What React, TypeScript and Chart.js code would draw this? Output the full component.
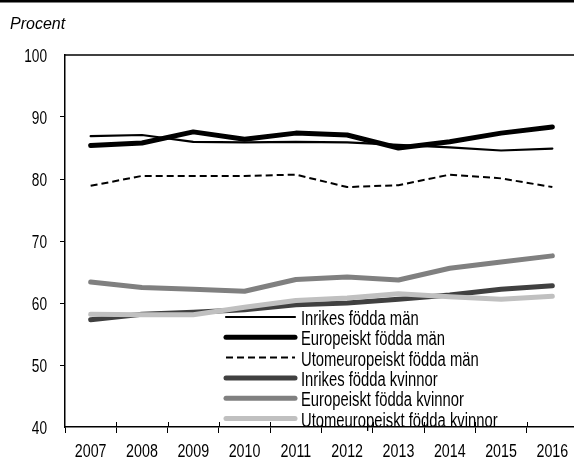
import React, { useEffect, useRef } from "react";
import { Chart, registerables } from "chart.js";

Chart.register(...registerables);

const years = ["2007", "2008", "2009", "2010", "2011", "2012", "2013", "2014", "2015", "2016"];
const inrikesMan = [86.9, 87.1, 86.0, 85.9, 86.0, 85.9, 85.5, 85.1, 84.6, 84.9];
const europeisktMan = [85.4, 85.8, 87.6, 86.4, 87.4, 87.1, 85.0, 86.0, 87.4, 88.4];
const utomeuropeisktMan = [78.9, 80.5, 80.5, 80.5, 80.7, 78.7, 79.0, 80.7, 80.1, 78.7];
const inrikesKvinnor = [57.3, 58.2, 58.5, 58.9, 59.7, 60.0, 60.6, 61.3, 62.2, 62.8];
const europeisktKvinnor = [63.4, 62.5, 62.2, 61.9, 63.8, 64.2, 63.7, 65.6, 66.6, 67.6];
const utomeuropeisktKvinnor = [58.2, 58.1, 58.1, 59.3, 60.4, 60.8, 61.5, 61.0, 60.6, 61.1];
const seriesLabels = [
  "Inrikes födda män",
  "Europeiskt födda män",
  "Utomeuropeiskt födda män",
  "Inrikes födda kvinnor",
  "Europeiskt födda kvinnor",
  "Utomeuropeiskt födda kvinnor",
];
const yTicks = [40, 50, 60, 70, 80, 90, 100];
const unitLabel = "Procent";

const FONT = "'Liberation Sans', Arial, sans-serif";

function narrowText(ctx: any, text: string, x: number, y: number, size: number, sx: number, align: "left" | "right" | "center") {
  ctx.save();
  ctx.font = `${size}px ${FONT}`;
  ctx.textAlign = align;
  ctx.textBaseline = "alphabetic";
  ctx.translate(x, y);
  ctx.scale(sx, 1);
  ctx.fillStyle = "#000";
  ctx.fillText(text, 0, 0);
  ctx.restore();
}

const decorPlugin = {
  id: "decor",
  afterDraw(chart: any) {
    const { ctx, chartArea } = chart;
    const x = chart.scales.x;
    const yS = chart.scales.y;
    ctx.save();
    // top black bar
    ctx.fillStyle = "#000";
    ctx.fillRect(0, 0, chart.width, 2.5);
    // title
    ctx.font = "italic 16px 'Liberation Sans', Arial, sans-serif";
    ctx.textBaseline = "alphabetic";
    ctx.textAlign = "left";
    ctx.fillText(unitLabel, 10, 29);
    // top border of plot
    ctx.strokeStyle = "#000";
    ctx.lineWidth = 1.5;
    ctx.beginPath();
    ctx.moveTo(chartArea.left, chartArea.top);
    ctx.lineTo(chartArea.right, chartArea.top);
    ctx.stroke();
    // upward tick marks on x axis
    ctx.lineWidth = 1;
    for (let i = 0; i < years.length - 1; i++) {
      const px = Math.round((x.getPixelForValue(i) + x.getPixelForValue(i + 1)) / 2) + 0.5;
      ctx.beginPath();
      ctx.moveTo(px, chartArea.bottom - 5);
      ctx.lineTo(px, chartArea.bottom);
      ctx.stroke();
    }
    // tick labels
    years.forEach((lab, i) => {
      narrowText(ctx, lab, x.getPixelForValue(i), chartArea.bottom + 30, 19, 0.75, "center");
    });
    yTicks.forEach((v) => {
      narrowText(ctx, String(v), chartArea.left - 18, yS.getPixelForValue(v) + 7, 19, 0.72, "right");
    });
    // legend
    const lx0 = 226;
    const lx1 = 295;
    const ly0 = 317;
    const dy = 20.3;
    chart.data.datasets.forEach((ds: any, i: number) => {
      const y = ly0 + dy * i;
      ctx.strokeStyle = ds.borderColor;
      ctx.lineWidth = ds.borderWidth;
      ctx.setLineDash(ds.borderDash || []);
      ctx.lineCap = ds.borderDash && ds.borderDash.length ? "butt" : "round";
      ctx.beginPath();
      ctx.moveTo(lx0, y);
      ctx.lineTo(lx1, y);
      ctx.stroke();
      ctx.setLineDash([]);
      narrowText(ctx, ds.label, 301, y + 8, 20, 0.74, "left");
    });
    ctx.restore();
  },
};

export default function App() {
  const ref = useRef<HTMLCanvasElement>(null);
  useEffect(() => {
    document.body.style.margin = "0";
    const series = [inrikesMan, europeisktMan, utomeuropeisktMan, inrikesKvinnor, europeisktKvinnor, utomeuropeisktKvinnor];
    const colors = ["#000000", "#000000", "#000000", "#404040", "#808080", "#c0c0c0"];
    const widths = [2.2, 5, 2, 5, 5, 5];
    const chart = new Chart(ref.current!, {
      type: "line",
      data: {
        labels: years,
        datasets: series.map((d, i) => ({
          label: seriesLabels[i],
          data: d,
          borderColor: colors[i],
          backgroundColor: colors[i],
          borderWidth: widths[i],
          borderDash: i === 2 ? [7, 4] : [],
          borderCapStyle: i === 2 ? "butt" : "round",
          borderJoinStyle: "round",
          pointRadius: 0,
          tension: 0,
          fill: false,
          order: 5 - i,
        })) as any,
      },
      options: {
        animation: false,
        responsive: false,
        maintainAspectRatio: false,
        layout: { padding: { top: 55, left: 0, right: 4, bottom: 0 } },
        plugins: { legend: { display: false }, tooltip: { enabled: false }, title: { display: false } },
        scales: {
          x: {
            type: "category",
            offset: true,
            grid: {
              offset: true,
              drawOnChartArea: false,
              drawTicks: true,
              tickLength: 6,
              color: "#000",
              lineWidth: 1,
            },
            border: { display: true, color: "#000", width: 1.5 },
            ticks: { display: false, autoSkip: false },
            afterFit: (s: any) => {
              s.height = 33;
            },
          },
          y: {
            min: 40,
            max: 100,
            afterBuildTicks: (s: any) => {
              s.ticks = yTicks.map((v) => ({ value: v }));
            },
            grid: {
              drawOnChartArea: false,
              drawTicks: true,
              tickLength: 5,
              color: (c: any) => (c.tick && (c.tick.value === 40 || c.tick.value === 100) ? "rgba(0,0,0,0)" : "#000"),
              lineWidth: 1,
            },
            border: { display: true, color: "#000", width: 1.5 },
            ticks: { display: false },
            afterFit: (s: any) => {
              s.width = 65;
            },
          },
        },
      },
      plugins: [decorPlugin],
    });
    return () => chart.destroy();
  }, []);
  return (
    <div style={{ position: "relative", width: 574, height: 460, overflow: "hidden", background: "#fff" }}>
      <canvas ref={ref} width={582} height={460} style={{ display: "block", width: 582, height: 460 }} />
    </div>
  );
}
